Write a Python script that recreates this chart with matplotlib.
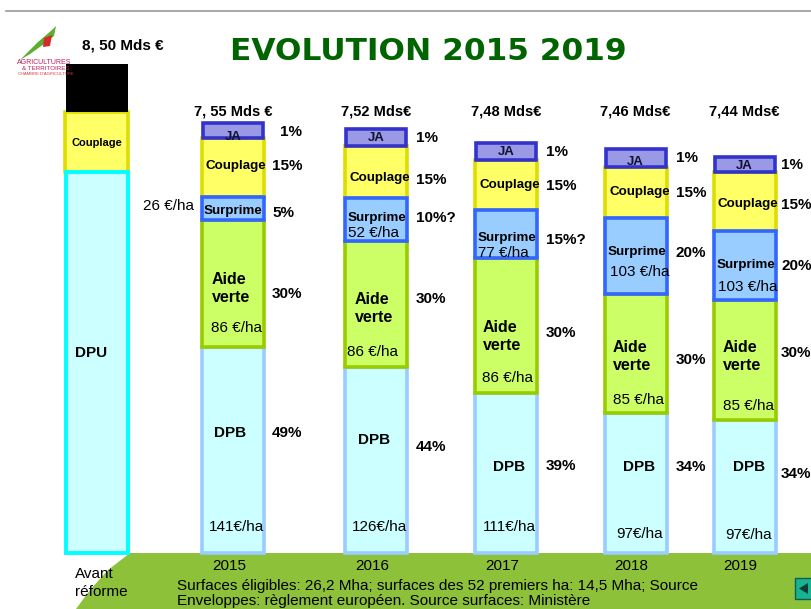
import matplotlib
matplotlib.use('Agg')
import matplotlib.pyplot as plt
from matplotlib.patches import Polygon
import numpy as np

plt.rcParams['font.family'] = ['Liberation Sans', 'DejaVu Sans']

# ---------------- data (segment heights) ----------------
categories = ['2015', '2016', '2017', '2018', '2019']
totals = ['7, 55 Mds €', '7,52 Mds€', '7,48 Mds€', '7,46 Mds€', '7,44 Mds€']
dpb = [206, 186, 160, 140, 133]
aide_verte = [127, 126, 135, 119, 120]
surprime = [23, 43, 48, 76, 69]
couplage = [59, 52, 50, 51, 59]
ja = [15, 17, 17, 18, 15]

pct_ja = ['1%', '1%', '1%', '1%', '1%']
pct_couplage = ['15%', '15%', '15%', '15%', '15%']
pct_surprime = ['5%', '10%?', '15%?', '20%', '20%']
pct_aide = ['30%', '30%', '30%', '30%', '30%']
pct_dpb = ['49%', '44%', '39%', '34%', '34%']

eur_surprime = ['26 €/ha', '52 €/ha', '77 €/ha', '103 €/ha', '103 €/ha']
eur_aide = ['86 €/ha', '86 €/ha', '86 €/ha', '85 €/ha', '85 €/ha']
eur_dpb = ['141€/ha', '126€/ha', '111€/ha', '97€/ha', '97€/ha']

avant_label = 'Avant\nréforme'
avant_total = '8, 50 Mds €'
avant_dpu = 381
avant_couplage = 60
avant_top = 48

title = 'EVOLUTION 2015 2019'
footnote = ['Surfaces éligibles: 26,2 Mha; surfaces des 52 premiers ha: 14,5 Mha; Source',
            'Enveloppes: règlement européen. Source surfaces: Ministère']

# ---------------- layout ----------------
H = 609
BASE = 553          # pixel row of the bar baseline
xpos = [233, 376, 506, 635.5, 744.5]
xavant = 96.5
W = 62

fig = plt.figure(figsize=(8.11, 6.09), dpi=100)
ax = fig.add_axes([0, 0, 1, 1])
ax.set_xlim(0, 811)
ax.set_ylim(BASE - H, BASE)
ax.axis('off')


def Y(py):
    return BASE - py


def T(x, py, s, **kw):
    kw.setdefault('fontsize', 11)
    kw.setdefault('va', 'center')
    kw.setdefault('zorder', 10)
    ax.text(x, Y(py), s, **kw)


# green background at bottom
green = Polygon([(130, Y(553)), (811, Y(553)), (811, Y(609)), (76, Y(609)),
                 (90, Y(590)), (108, Y(570))], closed=True,
                facecolor='#8DC13A', edgecolor='none', zorder=0)
ax.add_patch(green)

# top grey rule
ax.plot([6, 811], [Y(11), Y(11)], color='#9a9a9a', lw=1.2, zorder=1)

# ---------------- stacked bars ----------------
dpb_a = np.array(dpb)
av_a = np.array(aide_verte)
sp_a = np.array(surprime)
cp_a = np.array(couplage)
ja_a = np.array(ja)
LW = 2.6

ax.bar(xpos, dpb_a, W, bottom=0, color='#CCFFFF', edgecolor='#99CCFF', lw=LW, zorder=2)
ax.bar(xpos, av_a, W, bottom=dpb_a, color='#CCFF66', edgecolor='#99CC00', lw=LW, zorder=3)
ax.bar(xpos, cp_a, W, bottom=dpb_a + av_a + sp_a, color='#FFFF66', edgecolor='#DDDD00', lw=LW, zorder=3)
ax.bar(xpos, sp_a, W, bottom=dpb_a + av_a, color='#99CCFF', edgecolor='#3366FF', lw=LW, zorder=4)
ax.bar(xpos, ja_a, W - 2, bottom=dpb_a + av_a + sp_a + cp_a, color='#9999E6', edgecolor='#3333CC', lw=LW, zorder=5)

# "avant reforme" bar
ax.bar([xavant], [avant_couplage], 63, bottom=avant_dpu, color='#FFFF66', edgecolor='#DDDD00', lw=LW, zorder=2)
ax.bar([xavant], [avant_dpu], 62, bottom=0, color='#CCFFFF', edgecolor='#00FFFF', lw=2.8, zorder=3)
ax.bar([xavant], [avant_top], 62, bottom=avant_dpu + avant_couplage, color='black', edgecolor='none', zorder=4)

# ---------------- texts ----------------
T(428, 52, title, fontsize=22.5, fontweight='bold', color='#006400', ha='center',
  family=['DejaVu Sans'])
T(82, 45, avant_total, fontweight='bold', ha='left')
T(96.5, 143, 'Couplage', fontsize=8, fontweight='bold', ha='center')
T(75, 353, 'DPU', fontweight='bold', ha='left')
T(75, 583, avant_label, ha='left', linespacing=1.35)

total_y = 112
ja_y = [137, 138, 152, 162, 166]
coup_y = [166, 178, 185, 192, 204]
sur_y = [211, 218, 238, 252, 265]
sureur_y = [None, 233, 253, 272, 287]
aide_y = [280, 300, 327, 347, 347]
verte_y = [298, 318, 345, 366, 366]
aideeur_y = [328, 352, 378, 400, 406]
dpb_y = [433, 440, 467, 467, 467]
dpbeur_y = [527, 527, 527, 534, 535]
p_ja = [132, 138, 152, 158, 165]
p_cp = [166, 180, 186, 193, 205]
p_sp = [213, 218, 240, 253, 266]
p_av = [294, 299, 333, 360, 353]
p_dp = [433, 447, 466, 467, 474]
coup_dx = [-28, -26, -27, -26.5, -26.5]
sur_dx = [-29, -28, -28, -27.5, -27.5]
sureur_dx = [0, -28, -28, -25, -26.5]
aide_dx = [-21, -21, -23, -22.5, -21.5]
dpb_dx = [-19, -18, -13, -12.5, -11.5]
dpbeur_dx = [-24, -24, -23, -19.5, -19.5]
pct_x = [272, 416, 546, 676, 781]

for i, x in enumerate(xpos):
    T(x, total_y, totals[i], fontsize=10.5, fontweight='bold', ha='center')
    T(x, ja_y[i], 'JA', fontsize=9.5, fontweight='bold', ha='center', color='#111133')
    T(x + coup_dx[i], coup_y[i], 'Couplage', fontsize=9.6, fontweight='bold', ha='left')
    T(x + sur_dx[i], sur_y[i], 'Surprime', fontsize=9.6, fontweight='bold', ha='left')
    if sureur_y[i] is not None:
        T(x + sureur_dx[i], sureur_y[i], eur_surprime[i], ha='left')
    T(x + aide_dx[i], aide_y[i], 'Aide', fontsize=11.5, fontweight='bold', ha='left')
    T(x + aide_dx[i], verte_y[i], 'verte', fontsize=11.5, fontweight='bold', ha='left')
    T(x + aide_dx[i] - (1 if i < 3 else 0) - (7 if i == 1 else 0), aideeur_y[i], eur_aide[i], ha='left')
    T(x + dpb_dx[i], dpb_y[i], 'DPB', fontweight='bold', ha='left')
    T(x + dpbeur_dx[i], dpbeur_y[i], eur_dpb[i], ha='left')
    px = pct_x[i]
    T(px + (8 if i == 0 else 0), p_ja[i], pct_ja[i], fontweight='bold', ha='left')
    T(px, p_cp[i], pct_couplage[i], fontweight='bold', ha='left')
    T(px, p_sp[i], pct_surprime[i], fontweight='bold', ha='left')
    T(px, p_av[i], pct_aide[i], fontweight='bold', ha='left')
    T(px, p_dp[i], pct_dpb[i], fontweight='bold', ha='left')
    T(x - 4, 566, categories[i], ha='center')

# 26 EUR/ha sits left of the 2015 bar
T(143, 206, eur_surprime[0], ha='left')

# footnote
T(177, 586, footnote[0], ha='left')
T(177, 601, footnote[1], ha='left')

# nav button
ax.add_patch(plt.Rectangle((795, Y(599)), 20, 21, facecolor='#19B394', edgecolor='#0d5e4e', lw=1, zorder=6))
ax.add_patch(Polygon([(799, Y(588.5)), (808, Y(583)), (808, Y(594))], closed=True,
                     facecolor='#0d3d33', edgecolor='none', zorder=7))

# logo (simplified)
ax.add_patch(Polygon([(20, Y(60)), (38, Y(42)), (52, Y(30)), (56, Y(26)), (54, Y(36)),
                      (44, Y(44)), (30, Y(54))], closed=True, facecolor='#5BAE2E',
                     edgecolor='none', zorder=6))
ax.add_patch(Polygon([(44, Y(38)), (52, Y(35)), (50, Y(46)), (43, Y(47))], closed=True,
                     facecolor='#D42A2A', edgecolor='none', zorder=6))
T(17, 62, 'AGRICULTURES', fontsize=5, color='#C2185B', ha='left')
T(22, 68, '& TERRITOIRES', fontsize=4.5, color='#C2185B', ha='left')
T(18, 74, "CHAMBRE D'AGRICULTURE", fontsize=3, color='#D33', ha='left')

fig.savefig('out.png', dpi=100)
